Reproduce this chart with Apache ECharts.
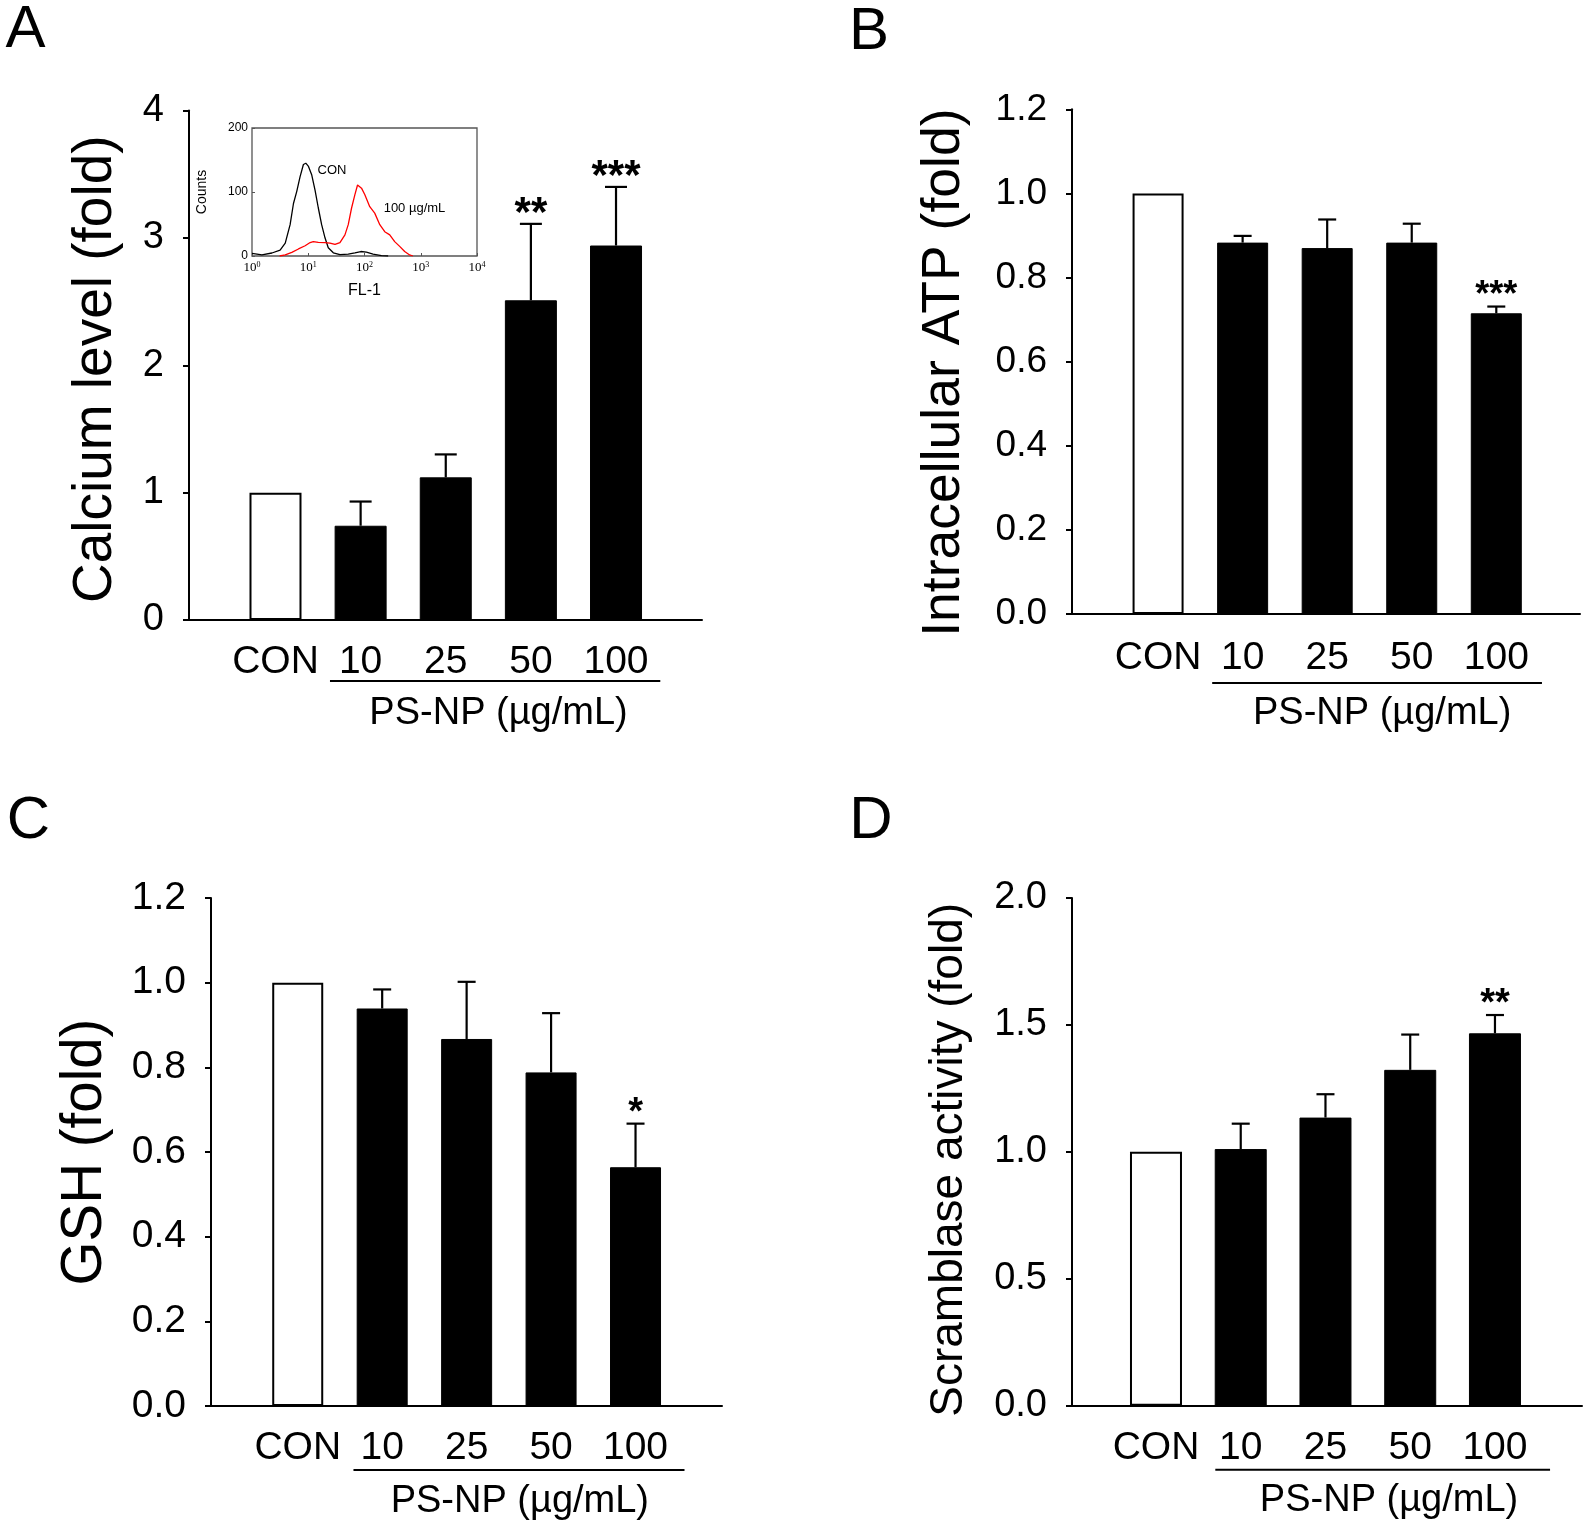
<!DOCTYPE html>
<html>
<head>
<meta charset="utf-8">
<script src="https://cdn.jsdelivr.net/npm/echarts@6/dist/echarts.min.js"></script>
<style>
html,body{margin:0;padding:0;background:#fff;}
#chart{width:1593px;height:1526px;}
</style>
</head>
<body>
<div id="chart"></div>
<script>
// ---------------- data ----------------
const categories = ['CON', '10', '25', '50', '100'];

const calciumMean = [1.00, 0.74, 1.12, 2.51, 2.94];
const calciumErr  = [0, 0.19, 0.18, 0.60, 0.46];
const calciumSig  = ['', '', '', '**', '***'];
const calciumTicks = [0, 1, 2, 3, 4];

const atpMean = [1.00, 0.883, 0.870, 0.883, 0.715];
const atpErr  = [0, 0.016, 0.068, 0.045, 0.016];
const atpSig  = ['', '', '', '', '***'];
const atpTicks = [0.0, 0.2, 0.4, 0.6, 0.8, 1.0, 1.2];

const gshMean = [1.00, 0.939, 0.867, 0.788, 0.564];
const gshErr  = [0, 0.045, 0.135, 0.140, 0.103];
const gshSig  = ['', '', '', '', '*'];
const gshTicks = [0.0, 0.2, 0.4, 0.6, 0.8, 1.0, 1.2];

const scramMean = [1.00, 1.011, 1.135, 1.323, 1.467];
const scramErr  = [0, 0.100, 0.092, 0.139, 0.072];
const scramSig  = ['', '', '', '', '**'];
const scramTicks = [0.0, 0.5, 1.0, 1.5, 2.0];

const doseLabel = 'PS-NP (µg/mL)';

// inset flow-cytometry histogram (FL-1 intensity, counts)
const conFL    = [1.0, 1.5, 2.26, 3.16, 3.9, 4.76, 5.46, 6.25, 7.16, 8.2, 9.04, 10.1, 11.5, 13.2, 15.1, 17.3, 19.9, 22.7, 27.9, 36.6, 51.4, 67.5, 86.1, 108, 142, 200, 263];
const conCount = [4, 1.6, 4.7, 9, 20, 49, 82, 101, 124, 143, 145, 140, 127, 103, 75, 49, 28, 13, 5, 2, 3, 5, 7, 6, 3, 0.5, 0];
const ps100FL    = [3.1, 3.9, 5.1, 6.7, 8.8, 10.8, 12.3, 15.1, 19.9, 24.3, 29.9, 36.6, 44.9, 51.4, 58.9, 67.5, 75.2, 80.5, 88.5, 101, 124, 152, 187, 229, 281, 344, 422, 518, 634, 726];
const ps100Count = [0, 1.6, 5.7, 11, 16, 21, 22.5, 21.4, 21, 20, 18, 21, 33, 49, 75, 96, 111, 113, 106, 96, 77, 67, 49, 38, 33, 22.5, 15, 7, 1.6, 0];
const insetYTicks = [0, 100, 200];

// ---------------- layout / styling ----------------
const FONT = '"Liberation Sans", Arial, Helvetica, sans-serif';
const SERIF = '"Liberation Serif", "Times New Roman", serif';

const panels = [
  { letter: 'A', mean: calciumMean, err: calciumErr, sig: calciumSig, ticks: calciumTicks, dec: 0,
    title: 'Calcium level (fold)',
    L: { left: 189, top: 110.5, width: 513, height: 509.5, xMin: -1.016, xMax: 5.01,
         titleSize: 55, nameGap: 66, titlePad: 8, tickSize: 38, labelMargin: 23,
         barWidth: 52, capHalf: 11, starSize: 42, uline: [0.64, 4.52], ulineDy: 61, noteX: 2.62, noteDy: 94 },
    letterPos: [25.4, 30.5] },
  { letter: 'B', mean: atpMean, err: atpErr, sig: atpSig, ticks: atpTicks, dec: 1,
    title: 'Intracellular ATP (fold)',
    L: { left: 1072, top: 109.3, width: 508, height: 504.7, xMin: -1.018, xMax: 4.99,
         titleSize: 53.5, nameGap: 100.5, titlePad: 22, tickSize: 37, labelMargin: 25,
         barWidth: 51, capHalf: 9, starSize: 36, uline: [0.64, 4.54], ulineDy: 69, noteX: 2.65, noteDy: 100 },
    letterPos: [869, 32.5] },
  { letter: 'C', mean: gshMean, err: gshErr, sig: gshSig, ticks: gshTicks, dec: 1,
    title: 'GSH (fold)',
    L: { left: 211, top: 898, width: 511, height: 508, xMin: -1.027, xMax: 5.024,
         titleSize: 56.5, nameGap: 97, titlePad: 0, tickSize: 39, labelMargin: 23,
         barWidth: 51, capHalf: 9, starSize: 38, uline: [0.66, 4.58], ulineDy: 64, noteX: 2.63, noteDy: 96 },
    letterPos: [28.5, 821] },
  { letter: 'D', mean: scramMean, err: scramErr, sig: scramSig, ticks: scramTicks, dec: 1,
    title: 'Scramblase activity (fold)',
    L: { left: 1072, top: 898, width: 510, height: 507.7, xMin: -0.991, xMax: 5.027,
         titleSize: 46, nameGap: 100, titlePad: 16, tickSize: 38, labelMargin: 23,
         barWidth: 52, capHalf: 9, starSize: 38, uline: [0.70, 4.65], ulineDy: 64, noteX: 2.75, noteDy: 95 },
    letterPos: [871, 821] }
];

const grids = [], xAxes = [], yAxes = [], series = [], graphics = [];

panels.forEach((p, gi) => {
  const L = p.L;
  grids.push({ left: L.left, top: L.top, width: L.width, height: L.height, containLabel: false });
  xAxes.push({
    gridIndex: gi, type: 'value', min: L.xMin, max: L.xMax,
    axisLine: { show: true, onZero: false, lineStyle: { color: '#000', width: 2 } },
    axisTick: { show: false }, splitLine: { show: false },
    axisLabel: {
      show: true, customValues: [0, 1, 2, 3, 4], margin: L.labelMargin,
      fontFamily: FONT, fontSize: 39, color: '#000',
      formatter: v => categories[Math.round(v)]
    }
  });
  const t = p.ticks;
  yAxes.push({
    gridIndex: gi, type: 'value', min: t[0], max: t[t.length - 1], interval: t[1] - t[0],
    axisLine: { show: true, onZero: false, lineStyle: { color: '#000', width: 2 } },
    axisTick: { show: true, length: 6, inside: false, lineStyle: { color: '#000', width: 2 } },
    splitLine: { show: false },
    axisLabel: { margin: 25, fontFamily: FONT, fontSize: L.tickSize, color: '#000',
                 formatter: v => v.toFixed(p.dec) },
    name: p.title, nameLocation: 'middle', nameRotate: 90, nameGap: L.nameGap,
    nameTextStyle: { fontFamily: FONT, fontSize: L.titleSize, color: '#000', padding: [0, L.titlePad, 0, 0] }
  });
  series.push({
    type: 'bar', xAxisIndex: gi, yAxisIndex: gi, barWidth: L.barWidth, silent: true,
    data: p.mean.map((v, k) => ({
      value: [k, v],
      itemStyle: k === 0 ? { color: '#fff', borderColor: '#000', borderWidth: 2 }
                         : { color: '#000', borderColor: '#000', borderWidth: 1 }
    }))
  });
  series.push({
    type: 'custom', xAxisIndex: gi, yAxisIndex: gi, silent: true, z: 5,
    encode: { x: 0, y: 1 },
    data: p.mean.map((v, k) => [k, v, p.err[k]]),
    renderItem: (params, api) => {
      const x = api.value(0), m = api.value(1), e = api.value(2);
      const p0 = api.coord([x, m]);
      const p1 = api.coord([x, m + e]);
      const children = [];
      if (e > 0) {
        children.push({ type: 'line', shape: { x1: p0[0], y1: p0[1], x2: p1[0], y2: p1[1] },
                        style: { stroke: '#000', lineWidth: 2.2 } });
        children.push({ type: 'line', shape: { x1: p1[0] - L.capHalf, y1: p1[1], x2: p1[0] + L.capHalf, y2: p1[1] },
                        style: { stroke: '#000', lineWidth: 2.2 } });
      }
      const s = p.sig[params.dataIndex];
      if (s) {
        children.push({ type: 'text', style: {
          text: s, x: p1[0], y: p1[1] - 18 + 0.2 * L.starSize, align: 'center', verticalAlign: 'middle',
          fontFamily: FONT, fontSize: L.starSize, fontWeight: 'bold', fill: '#000' } });
      }
      return { type: 'group', children };
    }
  });
  series.push({
    type: 'custom', xAxisIndex: gi, yAxisIndex: gi, silent: true, z: 5,
    encode: { x: 0, y: 1 },
    data: [[L.noteX, 0]],
    renderItem: (params, api) => {
      const a = api.coord([L.uline[0], 0]);
      const b = api.coord([L.uline[1], 0]);
      const c = api.coord([L.noteX, 0]);
      return { type: 'group', children: [
        { type: 'line', shape: { x1: a[0], y1: a[1] + L.ulineDy, x2: b[0], y2: b[1] + L.ulineDy },
          style: { stroke: '#000', lineWidth: 2 } },
        { type: 'text', style: { text: doseLabel, x: c[0], y: c[1] + L.noteDy, align: 'center', verticalAlign: 'middle',
          fontFamily: FONT, fontSize: 38, fill: '#000' } }
      ] };
    }
  });
  graphics.push({ type: 'text', x: p.letterPos[0], y: p.letterPos[1],
    style: { text: p.letter, align: 'center', verticalAlign: 'middle', fontFamily: FONT, fontSize: 60, fill: '#000' } });
});

// inset
const ig = grids.length;
grids.push({ left: 252, top: 128, width: 225, height: 128, show: true, borderColor: '#555', borderWidth: 1.3, backgroundColor: 'rgba(0,0,0,0)' });
xAxes.push({
  gridIndex: ig, type: 'log', logBase: 10, min: 1, max: 10000,
  axisLine: { show: false, onZero: false }, splitLine: { show: false },
  axisTick: { show: true, inside: true, length: 3, lineStyle: { color: '#555', width: 1 } },
  axisLabel: {
    margin: 5, color: '#000',
    formatter: v => '{b|10}{s|' + Math.round(Math.log10(v)) + '}',
    rich: { b: { fontFamily: SERIF, fontSize: 13, color: '#000' },
            s: { fontFamily: SERIF, fontSize: 8, color: '#000', verticalAlign: 'top', padding: [0, 0, 6, 0] } }
  },
  name: 'FL-1', nameLocation: 'middle', nameGap: 27,
  nameTextStyle: { fontFamily: FONT, fontSize: 16, color: '#000' }
});
yAxes.push({
  gridIndex: ig, type: 'value', min: insetYTicks[0], max: insetYTicks[insetYTicks.length - 1],
  interval: insetYTicks[1] - insetYTicks[0],
  axisLine: { show: false, onZero: false }, splitLine: { show: false },
  axisTick: { show: true, inside: true, length: 3, lineStyle: { color: '#555', width: 1 } },
  axisLabel: { margin: 4, fontFamily: FONT, fontSize: 12, color: '#000' },
  name: 'Counts', nameLocation: 'middle', nameRotate: 90, nameGap: 43,
  nameTextStyle: { fontFamily: FONT, fontSize: 14, color: '#000' }
});
series.push({
  type: 'line', xAxisIndex: ig, yAxisIndex: ig, symbol: 'none', silent: true,
  lineStyle: { color: '#000', width: 1.3 },
  data: conFL.map((f, k) => [f, conCount[k]])
});
series.push({
  type: 'line', xAxisIndex: ig, yAxisIndex: ig, symbol: 'none', silent: true,
  lineStyle: { color: '#ff0000', width: 1.3 },
  data: ps100FL.map((f, k) => [f, ps100Count[k]])
});
graphics.push({ type: 'text', x: 332, y: 170,
  style: { text: 'CON', align: 'center', verticalAlign: 'middle', fontFamily: FONT, fontSize: 13, fill: '#000' } });
graphics.push({ type: 'text', x: 414.5, y: 208,
  style: { text: '100 µg/mL', align: 'center', verticalAlign: 'middle', fontFamily: FONT, fontSize: 13, fill: '#000' } });

const chart = echarts.init(document.getElementById('chart'), null, { renderer: 'canvas' });
chart.setOption({
  backgroundColor: '#fff',
  animation: false,
  grid: grids, xAxis: xAxes, yAxis: yAxes, series: series,
  graphic: graphics
});
</script>
</body>
</html>
